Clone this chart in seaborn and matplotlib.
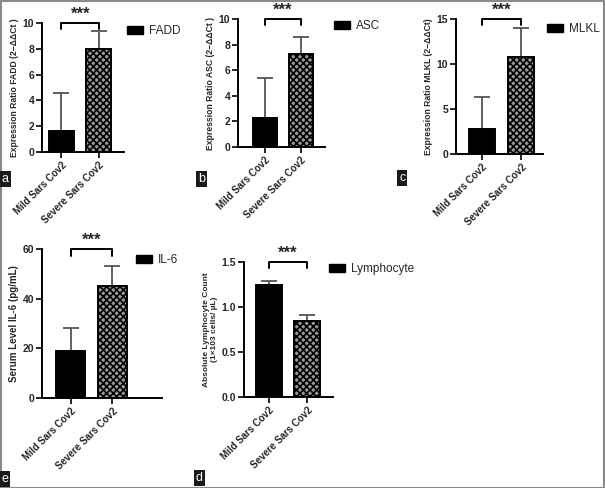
import matplotlib
matplotlib.use("Agg")
import matplotlib.pyplot as plt
import matplotlib.patches as mpatches
import numpy as np
import pandas as pd
import seaborn as sns

# ---------------------------------------------------------------------------
# Data
# ---------------------------------------------------------------------------
groups = ["Mild Sars Cov2", "Severe Sars Cov2"]

fadd_mean = [1.6, 7.95]
fadd_sd = [3.0, 1.4]

asc_mean = [2.25, 7.3]
asc_sd = [3.15, 1.3]

mlkl_mean = [2.75, 10.8]
mlkl_sd = [3.55, 3.2]

il6_mean = [19.0, 45.0]
il6_sd = [9.0, 8.0]

lymph_mean = [1.24, 0.85]
lymph_sd = [0.05, 0.06]

W, H = 605, 488

sns.set_style("ticks")
plt.rcParams["font.family"] = ["Liberation Sans", "DejaVu Sans"]
plt.rcParams["hatch.linewidth"] = 1.2


def frac_rect(left, top, right, bottom):
    return [left / W, 1 - bottom / H, (right - left) / W, (bottom - top) / H]


def draw_panel(fig, mean, sd, ylabel, ymax, yticks, ytick_fmt, rect, xlim,
               legend_label, legend_xy, ylabel_size=6.2):
    ax = fig.add_axes(frac_rect(*rect))
    df = pd.DataFrame({"group": groups, "value": mean})
    sns.barplot(data=df, x="group", y="value", hue="group",
                palette=["black", "#9a9a9a"], width=0.67, errorbar=None,
                legend=False, ax=ax, edgecolor="black", linewidth=1.4)
    ax.patches[1].set_hatch("xxxxx")
    ax.errorbar(range(len(groups)), mean, yerr=[np.zeros(len(sd)), sd],
                fmt="none", ecolor="#555555", elinewidth=1.3, capsize=5.5,
                capthick=1.3, zorder=0)
    ax.set_ylim(0, ymax)
    ax.set_xlim(*xlim)
    ax.set_yticks(yticks)
    ax.set_yticklabels([ytick_fmt.format(t) for t in yticks],
                       fontsize=7.5, fontweight="bold")
    ax.set_xticks(range(len(groups)))
    ax.set_xticklabels(groups, rotation=45, ha="right", rotation_mode="anchor",
                       fontsize=7, fontweight="bold")
    ax.set_xlabel("")
    ax.set_ylabel(ylabel, fontsize=ylabel_size, fontweight="bold", labelpad=3)
    ax.tick_params(axis="both", length=4, width=1.2, color="black", pad=1.5)
    for s in ["left", "bottom"]:
        ax.spines[s].set_linewidth(1.4)
        ax.spines[s].set_color("black")
    sns.despine(ax=ax)

    # significance bracket
    cap = ymax * 0.045
    ax.plot([0, 0, 1, 1], [ymax - cap, ymax, ymax, ymax - cap], color="black",
            lw=1.4, clip_on=False)
    ax.text(0.5, ymax + ymax * 0.01, "***", ha="center", va="bottom",
            fontsize=12, fontweight="bold", clip_on=False)

    # legend
    handle = mpatches.Patch(facecolor="black", edgecolor="black")
    fig.legend([handle], [legend_label], loc="center left",
               bbox_to_anchor=(legend_xy[0] / W, 1 - legend_xy[1] / H),
               frameon=False, fontsize=8.5, borderpad=0, borderaxespad=0,
               handlelength=1.35, handleheight=0.6, handletextpad=0.5)
    return ax


fig = plt.figure(figsize=(W / 100, H / 100), dpi=100)

draw_panel(fig, fadd_mean, fadd_sd, "Expression Ratio FADD (2\u2212\u0394\u0394Ct )",
           10, [0, 2, 4, 6, 8, 10], "{:g}", (42, 23, 124, 152), (-0.52, 1.67),
           "FADD", (127, 31))
draw_panel(fig, asc_mean, asc_sd, "Expression Ratio ASC (2\u2212\u0394\u0394Ct )",
           10, [0, 2, 4, 6, 8, 10], "{:g}", (238, 19, 325, 147), (-0.74, 1.68),
           "ASC", (334, 26))
draw_panel(fig, mlkl_mean, mlkl_sd, "Expression Ratio MLKL (2\u2212\u0394\u0394Ct)",
           15, [0, 5, 10, 15], "{:g}", (456, 19, 543, 154), (-0.67, 1.56),
           "MLKL", (547, 29))
draw_panel(fig, il6_mean, il6_sd, "Serum Level IL-6 (pg/mL)",
           60, [0, 20, 40, 60], "{:g}", (42, 249, 162, 398), (-0.68, 2.18),
           "IL-6", (136, 260), ylabel_size=7)
draw_panel(fig, lymph_mean, lymph_sd,
           "Absolute Lymphocyte Count\n(1\u00d7103 cells/ \u00b5L)",
           1.5, [0.0, 0.5, 1.0, 1.5], "{:.1f}", (244, 262, 333, 397), (-0.66, 1.68),
           "Lymphocyte", (329, 269), ylabel_size=6)

# panel letters
for letter, (x, y) in {"a": (2, 179), "b": (198, 179), "c": (399, 178),
                       "e": (1, 479), "d": (196, 478)}.items():
    fig.text(x / W, 1 - y / H, letter, color="white", fontsize=9,
             va="center", ha="left",
             bbox=dict(facecolor="#1a1a1a", edgecolor="none", pad=1.5))

# outer frame
fig.patches.append(mpatches.Rectangle((0.001, 0.001), 0.997, 0.997,
                                      transform=fig.transFigure, fill=False,
                                      edgecolor="#8a8a8a", lw=1.5))

fig.savefig("out.png", dpi=100)
